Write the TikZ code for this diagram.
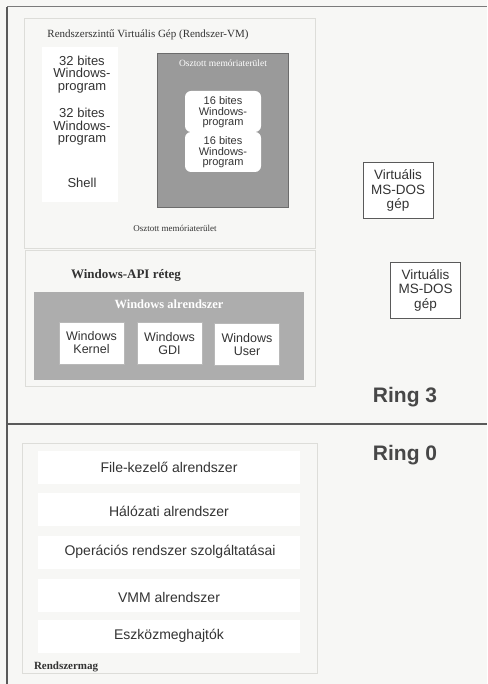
\documentclass[tikz,border=0pt]{standalone}
\usepackage{fontspec}
\setmainfont{Liberation Sans}
\newfontfamily\tms{Liberation Serif}
\definecolor{pagebg}{HTML}{F7F7F5}
\definecolor{ink}{HTML}{333333}
\definecolor{greyA}{HTML}{9A9A9A}
\definecolor{greyB}{HTML}{ADADAD}
\definecolor{framec}{HTML}{5A5A5A}
\definecolor{faint}{HTML}{DDDDD9}
\begin{document}
\begin{tikzpicture}[x=1pt,y=-1pt,
  every node/.style={inner sep=0pt,outer sep=0pt,text=ink},
  sans13/.style={font=\fontsize{13}{12.6}\selectfont,align=center},
  sans11/.style={font=\fontsize{11}{10.5}\selectfont,align=center},
  dosbox/.style={draw=framec,line width=0.8pt,fill=white,minimum width=70,minimum height=56,
     font=\fontsize{13.5}{14.5}\selectfont,align=center},
  winbox/.style={fill=white,draw=greyA!70,line width=0.4pt,minimum width=65,minimum height=42,
     font=\fontsize{12.5}{13}\selectfont,align=center},
  strip/.style={fill=white,minimum width=262,minimum height=33},
  striptext/.style={font=\fontsize{14}{16}\selectfont},
  ringlabel/.style={font=\bfseries\fontsize{21}{24}\selectfont,text=ink!90},
  faintbox/.style={draw=faint,line width=0.5pt,fill=pagebg}]

\useasboundingbox (0,0) rectangle (487,684);
\fill[pagebg] (0,0) rectangle (487,684);

% faint inner areas
\node[faintbox,minimum width=291,minimum height=230] (vmarea) at (169.5,133) {};
\node[fill=white,minimum width=76,minimum height=155] (col32) at (80,124.5) {};
\node[faintbox,minimum width=290,minimum height=136] (apiarea) at (170,318) {};
\node[faintbox,minimum width=295,minimum height=230] (kernarea) at (169.5,558) {};

% frame lines
\draw[framec!80,line width=1pt] (7,7) -- (487,7);
\draw[framec,line width=1.3pt] (7,7) -- (7,684);
\draw[framec,line width=1.5pt] (7,424) -- (487,424);

% VM title
\node[font=\tms\fontsize{11}{13}\selectfont] (vmtitle) at (148,35) {Rendszerszintű Virtuális Gép (Rendszer-VM)};

% 32-bit programs
\node[sans13] (p32a) at (82,74.5) {32 bites\\Windows-\\program};
\node[sans13] (p32b) at (82,127) {32 bites\\Windows-\\program};
\node[sans13] (shell) at (82,183) {Shell};

% shared memory grey box
\node[fill=greyA,draw=greyA!70!black,line width=0.6pt,minimum width=131,minimum height=154] (shmem) at (222.5,130) {};
\node[font=\tms\fontsize{9.5}{11}\selectfont,text=white] (shmemlbl) at (223,63) {Osztott memóriaterület};
\node[fill=white,rounded corners=6pt,minimum width=76,minimum height=41] (w16a) at (223,111.5) {};
\node[fill=white,rounded corners=6pt,minimum width=76,minimum height=40] (w16b) at (223,152) {};
\node[sans11] (p16a) at (223,112.5) {16 bites\\Windows-\\program};
\node[sans11] (p16b) at (223,152.5) {16 bites\\Windows-\\program};

\node[font=\tms\fontsize{9}{11}\selectfont] (shmem2) at (175,228) {Osztott memóriaterület};

% virtual DOS machines
\node[dosbox] (dos1) at (398,190.5) {Virtuális\\MS-DOS\\gép};
\node[dosbox] (dos2) at (425.5,290) {Virtuális\\MS-DOS\\gép};

% Windows API layer
\node[font=\tms\bfseries\fontsize{13}{15}\selectfont] (apilbl) at (126,275) {Windows-API réteg};
\node[fill=greyB,minimum width=270,minimum height=88] (winsub) at (169,336) {};
\node[font=\tms\bfseries\fontsize{12.5}{14}\selectfont,text=white] (winsublbl) at (169,304) {Windows alrendszer};
\node[winbox] (kernel) at (91.5,343) {Windows\\Kernel};
\node[winbox] (gdi) at (169.5,343.5) {Windows\\GDI};
\node[winbox] (user) at (247,344.5) {Windows\\User};

% ring labels
\node[ringlabel] (ring3) at (405,397) {Ring 3};
\node[ringlabel] (ring0) at (405,455) {Ring 0};

% kernel strips
\node[strip] (s1) at (169,467) {};
\node[strip] (s2) at (169,509) {};
\node[strip] (s3) at (169,552) {};
\node[strip] (s4) at (169,595) {};
\node[strip] (s5) at (169,636) {};
\node[striptext] (t1) at (169,467) {File-kezelő alrendszer};
\node[striptext] (t2) at (169,511) {Hálózati alrendszer};
\node[striptext] (t3) at (170,552) {Operációs rendszer szolgáltatásai};
\node[striptext] (t4) at (169,597) {VMM alrendszer};
\node[striptext] (t5) at (169,636) {Eszközmeghajtók};
\node[font=\tms\bfseries\fontsize{11}{13}\selectfont,anchor=west] (kern) at (34,667) {Rendszermag};

\end{tikzpicture}
\end{document}
